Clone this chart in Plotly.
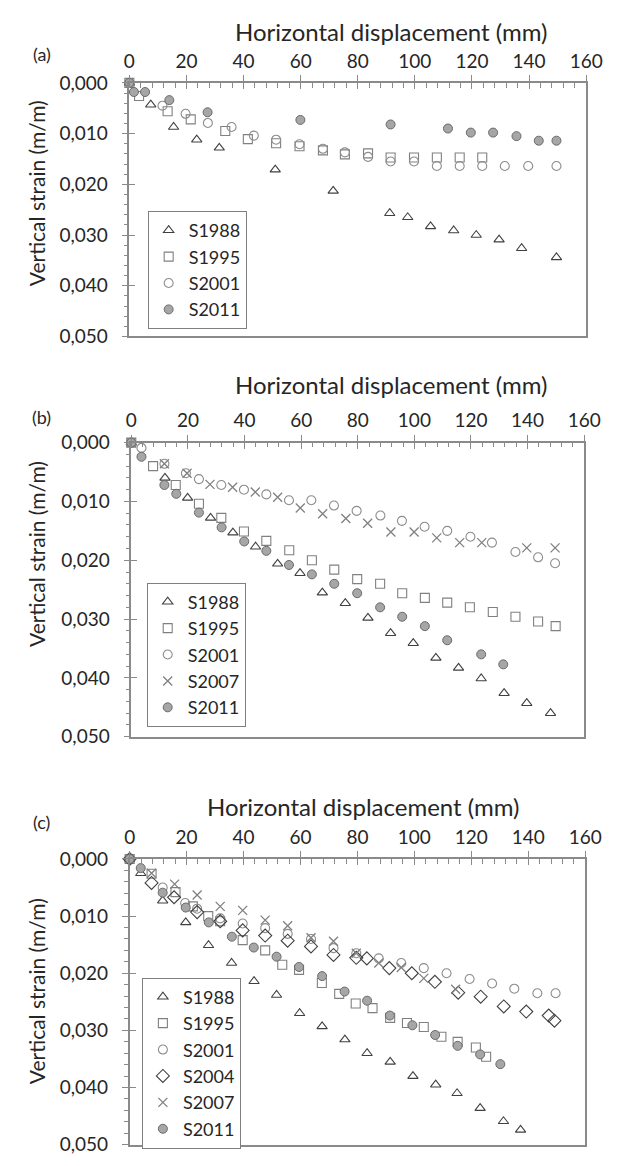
import plotly.graph_objects as go

# ---------------- Data ----------------
# Panel (a)
a_s1988_x = [0, 7.5, 15.5, 23.6, 31.5, 51.1, 71.4, 91.2, 97.5, 105.5, 113.6, 121.5, 129.5, 137.4, 149.6]
a_s1988_y = [0, .0043, .0087, .0112, .0128, .0171, .0213, .0257, .0265, .0283, .0291, .0300, .0309, .0326, .0344]
a_s1995_x = [0, 3.4, 13.4, 21.5, 33.6, 41.5, 51.4, 59.6, 67.8, 75.5, 83.6, 91.5, 99.7, 107.7, 115.7, 123.6]
a_s1995_y = [0, .0026, .0056, .0072, .0095, .0111, .0119, .0125, .0133, .0141, .0139, .0147, .0147, .0147, .0147, .0147]
a_s2001_x = [0, 11.6, 19.7, 27.5, 35.8, 43.6, 51.4, 59.6, 67.8, 75.5, 83.6, 91.5, 99.7, 107.7, 115.7, 123.6, 131.5, 139.7, 149.6]
a_s2001_y = [0, .0045, .0061, .0079, .0087, .0104, .0112, .0121, .0130, .0137, .0146, .0155, .0155, .0164, .0164, .0164, .0164, .0164, .0164]
a_s2011_x = [0, 1.6, 5.5, 14, 27.4, 59.9, 91.5, 111.6, 119.6, 127.4, 135.6, 143.4, 149.6]
a_s2011_y = [0, .0018, .0018, .0034, .0058, .0073, .0082, .0090, .0098, .0098, .0105, .0114, .0114]

# Panel (b)
b_s1988_x = [0, 11.9, 19.9, 28, 35.9, 43.9, 51.7, 59.6, 67.5, 75.6, 83.6, 91.6, 99.6, 107.6, 115.6, 123.6, 131.7, 139.7, 148.1]
b_s1988_y = [0, .0060, .0094, .0128, .0153, .0177, .0206, .0222, .0255, .0273, .0298, .0324, .0341, .0366, .0383, .0401, .0426, .0443, .0460]
b_s1995_x = [0, 7.7, 15.7, 23.9, 31.8, 39.8, 47.7, 55.8, 63.8, 71.7, 79.8, 87.9, 95.7, 103.7, 111.6, 119.6, 127.7, 135.7, 143.7, 149.9]
b_s1995_y = [0, .0040, .0072, .0104, .0128, .0151, .0167, .0183, .0200, .0216, .0232, .0240, .0256, .0264, .0272, .0280, .0288, .0296, .0304, .0312]
b_s2001_x = [0, 3.6, 11.7, 19.3, 23.9, 31.8, 39.8, 47.7, 55.7, 63.6, 71.6, 79.6, 88, 95.6, 103.6, 111.6, 119.8, 127.4, 135.7, 143.7, 149.7]
b_s2001_y = [0, .0009, .0036, .0052, .0062, .0072, .0080, .0088, .0098, .0098, .0107, .0116, .0124, .0133, .0143, .0150, .0160, .0170, .0186, .0195, .0205]
b_s2007_x = [0, 11.7, 19.7, 27.8, 35.8, 43.8, 51.7, 59.7, 67.6, 75.8, 83.5, 91.7, 99.9, 107.9, 116, 123.8, 139.7, 149.7]
b_s2007_y = [0, .0036, .0052, .0071, .0076, .0084, .0093, .0111, .0121, .0129, .0137, .0152, .0152, .0162, .0170, .0170, .0179, .0179]
b_s2011_x = [0, 3.6, 11.7, 15.9, 23.9, 31.9, 39.9, 47.7, 55.7, 63.8, 71.7, 79.8, 87.9, 95.7, 103.7, 111.6, 123.6, 131.4]
b_s2011_y = [0, .0024, .0072, .0087, .0119, .0144, .0168, .0184, .0208, .0224, .0240, .0256, .0280, .0296, .0312, .0336, .0360, .0377]

# Panel (c)
c_s1988_x = [0, 3.9, 11.6, 19.7, 27.7, 35.8, 43.7, 51.6, 59.7, 67.6, 75.6, 83.4, 91.5, 99.5, 107.5, 115, 123.1, 131.3, 137.3]
c_s1988_y = [0, .0025, .0073, .0111, .0151, .0182, .0214, .0238, .0270, .0293, .0316, .0340, .0355, .0380, .0395, .0410, .0436, .0459, .0474]
c_s1995_x = [0, 7.7, 16.1, 22.2, 27.6, 31.8, 39.7, 47.6, 53.6, 59.5, 67.5, 73.6, 79.4, 85.3, 91.5, 97.4, 103.3, 109.5, 115.2, 121.6, 125.2]
c_s1995_y = [0, .0026, .0058, .0083, .0100, .0109, .0142, .0160, .0185, .0194, .0217, .0236, .0253, .0261, .0278, .0287, .0294, .0311, .0320, .0330, .0346]
c_s2001_x = [0, 11.6, 19.5, 23.7, 31.8, 39.7, 47.6, 55.5, 63.7, 71.6, 79.6, 87.5, 95.4, 103.3, 111.3, 119.4, 127.3, 135.1, 143.2, 149.6]
c_s2001_y = [0, .0050, .0077, .0087, .0104, .0113, .0121, .0131, .0140, .0156, .0165, .0174, .0182, .0191, .0200, .0210, .0218, .0227, .0235, .0235]
c_s2004_x = [0, 7.7, 15.6, 23.7, 31.8, 39.7, 47.6, 55.5, 63.7, 71.6, 79.6, 83.3, 91.2, 99.1, 107.2, 115.4, 123.3, 131.4, 139.3, 147.2, 149.2]
c_s2004_y = [0, .0042, .0067, .0093, .0109, .0125, .0134, .0143, .0153, .0168, .0173, .0174, .0191, .0200, .0215, .0234, .0241, .0258, .0267, .0274, .0283]
c_s2007_x = [0, 7.7, 15.8, 23.7, 31.8, 39.7, 47.6, 55.5, 63.7, 71.6, 79.6, 87.5, 95.4, 103.3, 114.5]
c_s2007_y = [0, .0025, .0044, .0063, .0083, .0090, .0107, .0117, .0138, .0144, .0165, .0182, .0190, .0209, .0228]
c_s2011_x = [0, 3.9, 11.6, 19.7, 27.8, 35.9, 43.6, 51.6, 59.5, 67.6, 75.5, 83.4, 91.4, 99.3, 107.3, 115.2, 123.1, 130.2]
c_s2011_y = [0, .0016, .0059, .0085, .0111, .0136, .0155, .0171, .0189, .0205, .0232, .0248, .0274, .0291, .0308, .0327, .0342, .0359]

panel_labels = ["(a)", "(b)", "(c)"]
x_title = "Horizontal displacement (mm)"
y_title = "Vertical strain (m/m)"

# ---------------- Styles ----------------
FONT = "Lato"
TXT = "#262626"
AX = "#8a8a8a"
W, H = 634, 1166

styles = {
    "S1988": dict(symbol="triangle-up-open", size=9, color="#404040", line=dict(width=1.1, color="#404040")),
    "S1995": dict(symbol="square-open", size=9, color="#808080", line=dict(width=1.1, color="#808080")),
    "S2001": dict(symbol="circle-open", size=9, color="#8c8c8c", line=dict(width=1.1, color="#8c8c8c")),
    "S2004": dict(symbol="diamond-open", size=10, color="#404040", line=dict(width=1.1, color="#404040")),
    "S2007": dict(symbol="x-thin-open", size=9, color="#808080", line=dict(width=1.3, color="#808080")),
    "S2011": dict(symbol="circle", size=9, color="#a6a6a6", line=dict(width=1, color="#6a6a6a")),
}

panels = [
    dict(series=[("S1988", a_s1988_x, a_s1988_y), ("S1995", a_s1995_x, a_s1995_y),
                 ("S2001", a_s2001_x, a_s2001_y), ("S2011", a_s2011_x, a_s2011_y)],
         xpx=(128, 602), ypx=(72.3, 331), legend=(147, 203), xt=(400, 20), yt=(31, 185), lab=(37, 43)),
    dict(series=[("S1988", b_s1988_x, b_s1988_y), ("S1995", b_s1995_x, b_s1995_y),
                 ("S2001", b_s2001_x, b_s2001_y), ("S2007", b_s2007_x, b_s2007_y),
                 ("S2011", b_s2011_x, b_s2011_y)],
         xpx=(130, 600), ypx=(439.3, 739.3), legend=(146, 582), xt=(400, 380), yt=(31, 553), lab=(37, 413)),
    dict(series=[("S1988", c_s1988_x, c_s1988_y), ("S1995", c_s1995_x, c_s1995_y),
                 ("S2001", c_s2001_x, c_s2001_y), ("S2004", c_s2004_x, c_s2004_y),
                 ("S2007", c_s2007_x, c_s2007_y), ("S2011", c_s2011_x, c_s2011_y)],
         xpx=(128.3, 601), ypx=(864, 1155.5), legend=(141, 985), xt=(370, 810), yt=(31, 999), lab=(37, 826)),
]

fig = go.Figure()
layout = dict(width=W, height=H, autosize=False, margin=dict(l=0, r=0, t=0, b=0),
              paper_bgcolor="white", plot_bgcolor="white", separators=",.",
              font=dict(family=FONT, color=TXT), annotations=[])

for i, p in enumerate(panels):
    n = i + 1
    xa = "x" if n == 1 else f"x{n}"
    ya = "y" if n == 1 else f"y{n}"
    xo, yo = f"x{n+3}", f"y{n+3}"
    lg = "legend" if n == 1 else f"legend{n}"
    xd = [p["xpx"][0] / W, p["xpx"][1] / W]
    yd = [1 - p["ypx"][1] / H, 1 - p["ypx"][0] / H]

    for name, xs, ys in p["series"]:
        st = styles[name]
        fig.add_trace(go.Scatter(x=xs, y=ys, mode="markers", name=name, xaxis=xa, yaxis=ya,
                                 legend=lg, cliponaxis=False, marker=st))
    # helper empty traces so the overlay tick axes (crossing major ticks) render
    fig.add_trace(go.Scatter(x=[None], y=[None], xaxis=xo, yaxis=ya, showlegend=False, hoverinfo="skip"))
    fig.add_trace(go.Scatter(x=[None], y=[None], xaxis=xa, yaxis=yo, showlegend=False, hoverinfo="skip"))

    axkey = "xaxis" if n == 1 else f"xaxis{n}"
    aykey = "yaxis" if n == 1 else f"yaxis{n}"
    layout[axkey] = dict(domain=xd, anchor=ya, side="top", range=[0, 160], dtick=20, tick0=0,
                         ticks="outside", ticklen=6, tickwidth=1.3, tickcolor=AX,
                         minor=dict(dtick=4, ticks="inside", ticklen=5, tickwidth=1.3, tickcolor=AX),
                         showline=True, linecolor=AX, linewidth=1.5, mirror=True,
                         showgrid=False, zeroline=False,
                         tickfont=dict(family=FONT, size=19, color=TXT), fixedrange=True)
    layout[aykey] = dict(domain=yd, anchor=xa, range=[0.05, 0], dtick=0.01, tick0=0, tickformat=".3f",
                         ticks="outside", ticklen=6, tickwidth=1.3, tickcolor=AX, ticklabelstandoff=10,
                         minor=dict(dtick=0.002, ticks="outside", ticklen=4, tickwidth=1.3, tickcolor=AX),
                         showline=True, linecolor=AX, linewidth=1.5, mirror=True,
                         showgrid=False, zeroline=False,
                         tickfont=dict(family=FONT, size=19, color=TXT), fixedrange=True)
    layout[f"xaxis{n+3}"] = dict(overlaying=xa, anchor=ya, side="top", range=[0, 160], dtick=20, tick0=0,
                                 ticks="inside", ticklen=6, tickwidth=1.3, tickcolor=AX,
                                 showticklabels=False, showline=False, showgrid=False, zeroline=False)
    layout[f"yaxis{n+3}"] = dict(overlaying=ya, anchor=xa, side="left", range=[0.05, 0], dtick=0.01, tick0=0,
                                 ticks="inside", ticklen=6, tickwidth=1.3, tickcolor=AX,
                                 showticklabels=False, showline=False, showgrid=False, zeroline=False)
    layout[lg] = dict(x=p["legend"][0] / W, y=1 - p["legend"][1] / H, xanchor="left", yanchor="top",
                      bgcolor="white", bordercolor="#7f7f7f", borderwidth=1,
                      font=dict(family=FONT, size=18, color=TXT), tracegroupgap=0,
                      itemwidth=30)
    layout["annotations"] += [
        dict(text=x_title, x=p["xt"][0] / W, y=1 - p["xt"][1] / H, xref="paper", yref="paper",
             showarrow=False, xanchor="center", yanchor="middle", font=dict(family=FONT, size=24, color=TXT)),
        dict(text=y_title, x=p["yt"][0] / W, y=1 - p["yt"][1] / H, xref="paper", yref="paper",
             showarrow=False, textangle=-90, xanchor="center", yanchor="middle",
             font=dict(family=FONT, size=21, color=TXT)),
        dict(text=panel_labels[i], x=p["lab"][0] / W, y=1 - p["lab"][1] / H, xref="paper", yref="paper",
             showarrow=False, xanchor="center", yanchor="middle", font=dict(family=FONT, size=18, color=TXT)),
    ]

fig.update_layout(**layout)
fig.write_html("out.html")
